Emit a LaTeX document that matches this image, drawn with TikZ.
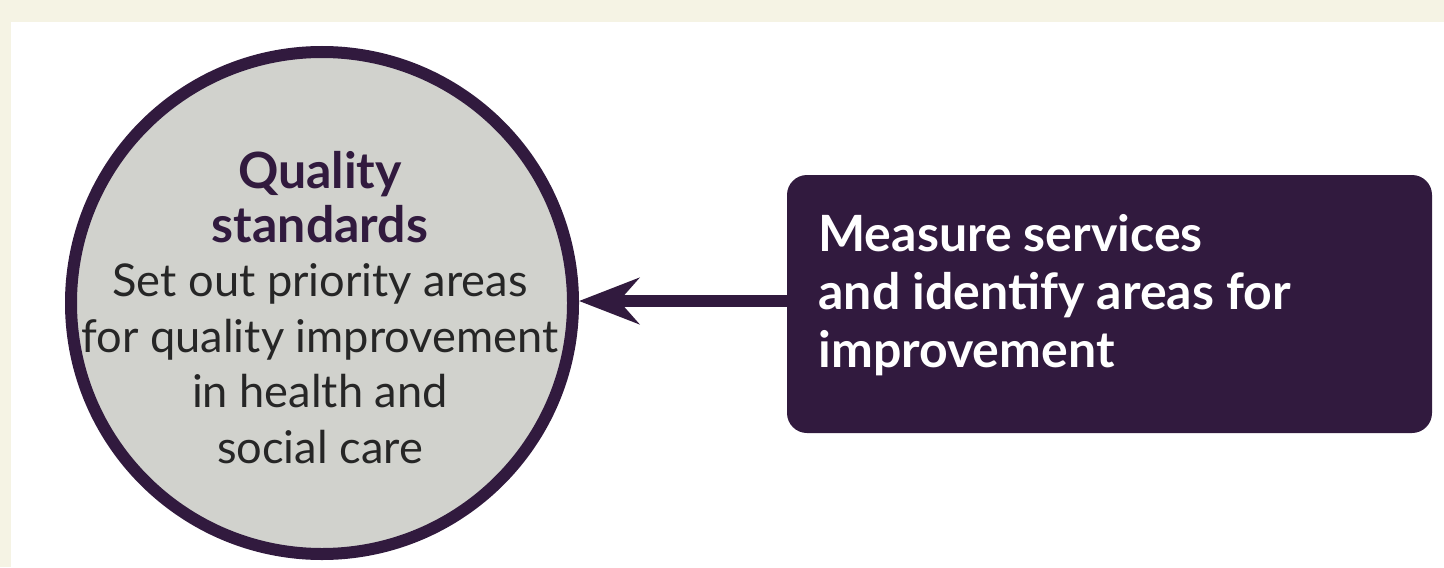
\documentclass[tikz,border=0pt]{standalone}
\usepackage{fontspec}
\setmainfont{Lato}
\usetikzlibrary{arrows.meta}
\definecolor{cream}{HTML}{F5F3E4}
\definecolor{nicepurple}{HTML}{311A3E}
\definecolor{circgrey}{HTML}{D1D2CD}
\tikzset{
  qcircle/.style={circle, draw=nicepurple, line width=6pt, fill=circgrey, minimum size=251pt, inner sep=0pt},
  qbox/.style={rectangle, rounded corners=10pt, fill=nicepurple, minimum width=322.5pt, minimum height=129pt, inner sep=0pt},
  qarrow/.style={draw=nicepurple, line width=6pt, -{Stealth[length=30pt, width=23pt, inset=10pt]}},
}
\begin{document}
\begin{tikzpicture}[x=0.5pt,y=-0.5pt]
\useasboundingbox (0,0) rectangle (1444,567);
\fill[cream] (0,0) rectangle (1444,567);
\fill[white] (11,22) rectangle (1444,567);
\node[qcircle] (circ) at (322,303) {};
\node[qbox] (box) at (1109.5,304) {};
\node[text=nicepurple, align=center, font=\fontsize{25pt}{27pt}\selectfont\bfseries, anchor=base, inner sep=0pt] (title) at (320,242) {Quality\\standards};
\node[text=black!85, align=center, font=\fontsize{22.6pt}{27.7pt}\selectfont, anchor=base, inner sep=0pt] (desc) at (320,463) {Set out priority areas\\for quality improvement\\in health and\\social care};
\node[text=white, align=left, font=\fontsize{25pt}{29pt}\selectfont\bfseries, anchor=base west, inner sep=0pt] (boxtext) at (818,367) {Measure services\\and identify areas for\\improvement};
\draw[qarrow] (box.west |- 0,301) -- (circ.east |- 0,301);
\end{tikzpicture}
\end{document}
